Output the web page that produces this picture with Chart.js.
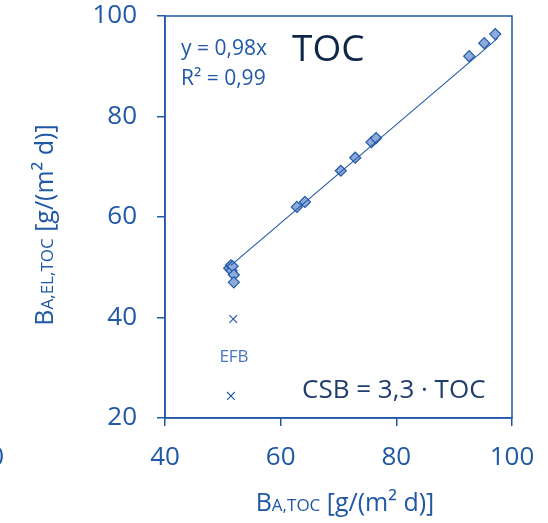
<!DOCTYPE html>
<html>
<head>
<meta charset="utf-8">
<script src="https://cdn.jsdelivr.net/npm/chart.js@4"></script>
<style>
  html, body { margin: 0; padding: 0; background: #fff; }
  #wrap { width: 548px; height: 523px; }
</style>
</head>
<body>
<div id="wrap"><canvas id="chart"></canvas></div>
<script>
// measured values (TOC)
const tocX = [51.1, 51.4, 51.5, 51.7, 51.9, 51.9, 62.8, 64.2, 70.4, 72.9, 75.7, 76.5, 92.6, 95.2, 97.1];
const tocY = [49.8, 50.4, 49.3, 50.2, 48.5, 47.0, 62.0, 63.0, 69.2, 71.8, 74.9, 75.7, 92.0, 94.6, 96.4];
// EFB outliers
const efbX = [51.8, 51.4];
const efbY = [39.7, 24.4];
// trendline y = 0.98x
const trendSlope = 0.98;
const trendRange = [51.4, 97.5];
const xTicks = [40, 60, 80, 100];
const yTicks = [20, 40, 60, 80, 100];

const BLUE = '#2058a6';
const FILL = '#8eaadb';
const FONT = '"Open Sans", sans-serif';

const toPoints = (xs, ys) => xs.map((x, i) => ({ x: x, y: ys[i] }));

// draws frame, axis titles with subscripts and text boxes
const extras = {
    id: 'extras',
    afterDraw(chart) {
        const { ctx, chartArea: a } = chart;
        ctx.save();
        ctx.strokeStyle = BLUE;
        ctx.lineWidth = 1.5;
        ctx.strokeRect(a.left, a.top, a.right - a.left, a.bottom - a.top);

        const subTitle = (main, sub, rest, cx, cy, rot) => {
            ctx.save();
            ctx.translate(cx, cy);
            ctx.rotate(rot);
            ctx.fillStyle = BLUE;
            ctx.textBaseline = 'alphabetic';
            const big = '25px ' + FONT, small = '17px ' + FONT;
            ctx.font = big; const w1 = ctx.measureText(main).width;
            ctx.font = small; const w2 = ctx.measureText(sub).width;
            ctx.font = big; const w3 = ctx.measureText(rest).width;
            let x = -(w1 + w2 + w3) / 2;
            ctx.font = big; ctx.fillText(main, x, 9); x += w1;
            ctx.font = small; ctx.fillText(sub, x, 9); x += w2;
            ctx.font = big; ctx.fillText(rest, x, 9);
            ctx.restore();
        };
        subTitle('B', 'A,TOC', ' [g/(m² d)]', 345, 502, 0);
        subTitle('B', 'A,EL,TOC', ' [g/(m² d)]', 44, 225, -Math.PI / 2);

        ctx.textBaseline = 'middle';
        ctx.textAlign = 'left';
        ctx.fillStyle = BLUE;
        ctx.font = '21px ' + FONT;
        ctx.fillText('y = 0,98x', 181, 49);
        ctx.fillText('R² = 0,99', 181, 79);
        ctx.fillStyle = '#0d2647';
        ctx.font = '37px ' + FONT;
        ctx.fillText('TOC', 292, 50);
        ctx.fillStyle = '#4a78bc';
        ctx.font = '17px ' + FONT;
        ctx.textAlign = 'center';
        ctx.fillText('EFB', 234, 357);
        ctx.fillStyle = '#1f3d6c';
        ctx.font = '26px ' + FONT;
        ctx.textAlign = 'left';
        ctx.fillText('CSB = 3,3 · TOC', 302, 391);
        // clipped label of neighbouring panel
        ctx.fillStyle = BLUE;
        ctx.font = '26px ' + FONT;
        ctx.textAlign = 'right';
        ctx.fillText('0', 4, 458);
        ctx.restore();
    }
};

new Chart(document.getElementById('chart'), {
    type: 'scatter',
    data: {
        datasets: [
            {
                type: 'line',
                label: 'trend',
                data: trendRange.map(x => ({ x: x, y: trendSlope * x })),
                borderColor: BLUE,
                borderWidth: 1.1,
                pointRadius: 0,
                fill: false
            },
            {
                label: 'TOC',
                data: toPoints(tocX, tocY),
                pointStyle: 'rectRot',
                pointRadius: 5.5,
                backgroundColor: FILL,
                borderColor: BLUE,
                borderWidth: 1.2
            },
            {
                label: 'EFB',
                data: toPoints(efbX, efbY),
                pointStyle: 'crossRot',
                pointRadius: 5.5,
                borderColor: BLUE,
                borderWidth: 1.1
            }
        ]
    },
    options: {
        responsive: true,
        maintainAspectRatio: false,
        animation: false,
        layout: { padding: { top: 16, right: 36, left: 0, bottom: 0 } },
        plugins: { legend: { display: false }, tooltip: { enabled: false } },
        scales: {
            x: {
                type: 'linear',
                min: 40, max: 100,
                afterBuildTicks: s => { s.ticks = xTicks.map(v => ({ value: v })); },
                afterFit: s => { s.height = 105; s.paddingLeft = 0; s.paddingRight = 0; },
                border: { color: BLUE, width: 1.5 },
                grid: { drawOnChartArea: false, drawTicks: true, tickLength: 8, color: BLUE, lineWidth: 1.5 },
                ticks: { color: BLUE, font: { family: FONT, size: 26 }, padding: 16, maxRotation: 0 }
            },
            y: {
                type: 'linear',
                min: 20, max: 100,
                afterBuildTicks: s => { s.ticks = yTicks.map(v => ({ value: v })); },
                afterFit: s => { s.width = 165; s.paddingTop = 0; s.paddingBottom = 0; },
                border: { color: BLUE, width: 1.5 },
                grid: { drawOnChartArea: false, drawTicks: true, tickLength: 8, color: BLUE, lineWidth: 1.5 },
                ticks: { color: BLUE, font: { family: FONT, size: 26 }, padding: 20 }
            }
        }
    },
    plugins: [extras]
});
</script>
</body>
</html>
